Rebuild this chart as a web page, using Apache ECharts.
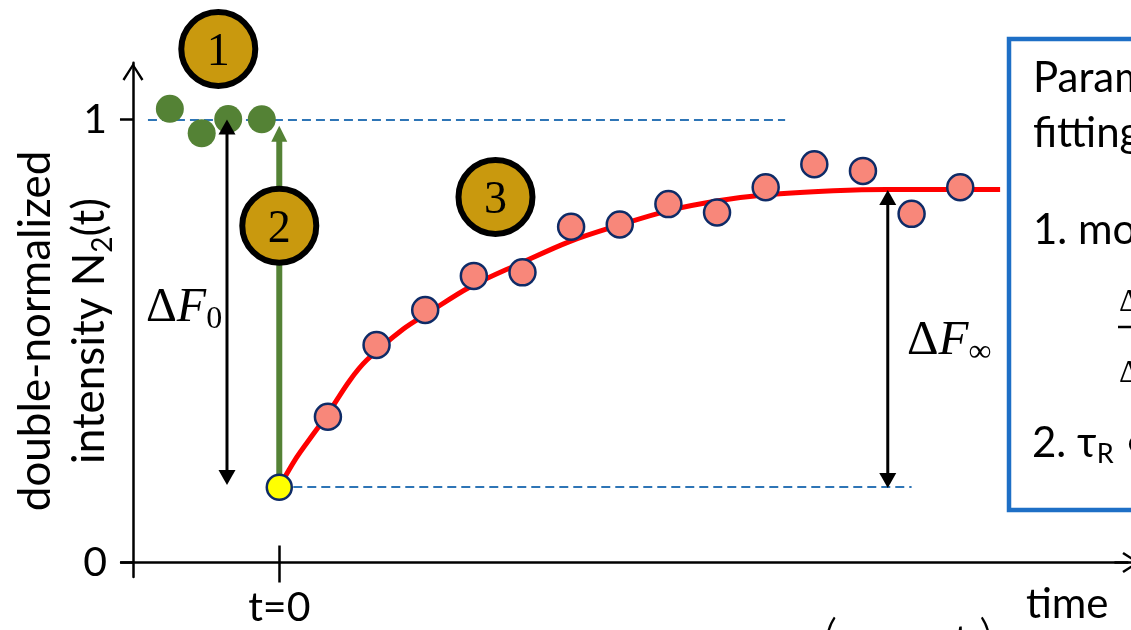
<!DOCTYPE html>
<html>
<head>
<meta charset="utf-8">
<script src="https://cdn.jsdelivr.net/npm/echarts@6/dist/echarts.min.js"></script>
<style>
  html, body { margin: 0; padding: 0; background: #ffffff; }
  #chart { width: 1131px; height: 630px; }
</style>
</head>
<body>
<div id="chart"></div>
<script>
// ---- data (time in frame intervals, double-normalized intensity) ----
// pre-bleach frames
const preBleachT = [-2.25, -1.595, -1.05, -0.36];
const preBleachN = [1.024, 0.969, 1.001, 1.0005];
// first frame after the bleach
const bleachT = [0];
const bleachN = [0.170];
// recovery frames
const recoveryT = [1, 2, 3, 4, 5, 6, 7, 8, 9, 10, 11, 12, 13, 14];
const recoveryN = [0.329, 0.491, 0.570, 0.647, 0.655, 0.758, 0.763, 0.809, 0.790, 0.847, 0.899, 0.884, 0.787, 0.847];
// fitted recovery curve
const fitT = [0, 0.35, 0.7, 1.0, 1.45, 1.8, 2.55, 3.03, 3.92, 4.95, 5.98, 7.0, 8.03, 9.06, 10.02, 11.39, 12.49, 14.82];
const fitN = [0.170, 0.236, 0.290, 0.336, 0.411, 0.457, 0.527, 0.561, 0.622, 0.675, 0.725, 0.762, 0.795, 0.817, 0.830, 0.839, 0.842, 0.842];
// dashed reference levels: pre-bleach level and bleach depth
const levelN = [1.0, 0.170];
const levelFromT = [-2.70, 0];
const levelToT = [10.40, 13.0];
// arrows: ΔF0, recovery step, ΔF∞
const arrowT = [-1.075, 0, 12.51];
const arrowFromN = [0.175, 0.170, 0.168];
const arrowToN = [1.0, 0.986, 0.841];
const arrowBothEnds = [1, 0, 1];
// numbered stages
const stageT = [-1.254, 0, 4.445];
const stageN = [1.159, 0.760, 0.825];
const stageText = ['1', '2', '3'];
// tick labels
const xTickValues = [0];
const xTickLabels = ['t=0'];
const yTickValues = [0, 1];
const yTickLabels = ['0', '1'];

// ---- layout ----
const X_MIN = -3.25, X_MAX = 17.7;
const Y_MIN = -0.033, Y_MAX = 1.128;
const PX_PER_T = 48.64, PX_PER_N = 443;
const GRID_LEFT = 121.2, GRID_TOP = 62.8;
const Y_AXIS_AT_T = -3.008;              // where the vertical axis sits on the time scale
const Y_AXIS_SHIFT = -(Y_AXIS_AT_T - X_MIN) * PX_PER_T;

const SANS = 'Lato, "DejaVu Sans", sans-serif';
const SERIF = '"Liberation Serif", "DejaVu Serif", serif';
const INK = '#000000';
const GREEN = '#548235';
const GOLD = '#C9990E';
const NAVY = '#0E2B67';
const SALMON = '#F8877A';
const DASH_BLUE = '#2E75B6';
const BOX_BLUE = '#1E6FC6';

// open chevron used as the axis arrow head (points up before rotation)
const CHEVRON = 'path://M10.5,0 L21,16.4 L19,17.8 L10.5,4.2 L2,17.8 L0,16.4 Z';

const ARROW_STYLE = [
  { color: INK, width: 3, len: 15, half: 8.5 },
  { color: GREEN, width: 6, len: 16, half: 8 },
  { color: INK, width: 3, len: 15, half: 8.5 }
];

function head(tip, dir, st) {
  return {
    type: 'polygon',
    shape: { points: [[tip[0], tip[1]], [tip[0] - st.half, tip[1] - dir * st.len], [tip[0] + st.half, tip[1] - dir * st.len]] },
    style: { fill: st.color }
  };
}

const baseY = {
  type: 'value', min: Y_MIN, max: Y_MAX, offset: Y_AXIS_SHIFT,
  splitLine: { show: false }
};
const baseX = {
  type: 'value', min: X_MIN, max: X_MAX, position: 'bottom',
  splitLine: { show: false }
};

const option = {
  animation: false,
  backgroundColor: '#ffffff',
  grid: {
    left: GRID_LEFT, top: GRID_TOP,
    width: (X_MAX - X_MIN) * PX_PER_T,
    height: (Y_MAX - Y_MIN) * PX_PER_N,
    containLabel: false,
    outerBoundsMode: 'none'
  },
  xAxis: [
    Object.assign({}, baseX, {
      axisLine: { show: true, onZero: true, lineStyle: { color: INK, width: 2.5 },
        symbol: ['none', CHEVRON], symbolSize: [21, 18], symbolOffset: [0, -9] },
      axisTick: { show: true, inside: false, length: 20, lineStyle: { color: INK, width: 2.5 }, customValues: xTickValues },
      axisLabel: { show: true, customValues: xTickValues, margin: 10,
        formatter: v => xTickLabels[xTickValues.indexOf(v)],
        fontFamily: SANS, fontSize: 41, lineHeight: 41, color: INK },
      name: 'time', nameLocation: 'end', nameGap: -73, nameMoveOverlap: false,
      nameTextStyle: { fontFamily: SANS, fontSize: 42, color: INK, align: 'center', verticalAlign: 'top', lineHeight: 84 }
    }),
    Object.assign({}, baseX, {
      axisLine: { show: false, onZero: true },
      axisTick: { show: true, inside: true, length: 17, lineStyle: { color: INK, width: 2.5 }, customValues: xTickValues },
      axisLabel: { show: false }
    })
  ],
  yAxis: [
    Object.assign({}, baseY, {
      axisLine: { show: true, onZero: false, lineStyle: { color: INK, width: 2.5 },
        symbol: ['none', CHEVRON], symbolSize: [21, 18], symbolOffset: [0, -9] },
      axisTick: { show: true, inside: false, length: 13, lineStyle: { color: INK, width: 2.5 }, customValues: yTickValues },
      axisLabel: { show: true, customValues: yTickValues, margin: 26,
        formatter: v => yTickLabels[yTickValues.indexOf(v)],
        fontFamily: SANS, fontSize: 41, color: INK },
      name: '{a|double-normalized}\n{a|intensity N}{s|2}{a|(t)}',
      nameLocation: 'middle', nameRotate: 90, nameGap: 16, nameMoveOverlap: false,
      nameTextStyle: {
        fontFamily: SANS, fontSize: 44, color: INK, padding: [0, 22, 0, 0],
        rich: {
          a: { fontFamily: SANS, fontSize: 44, lineHeight: 54, color: INK },
          s: { fontFamily: SANS, fontSize: 28, lineHeight: 32, verticalAlign: 'bottom', color: INK }
        }
      }
    }),
    Object.assign({}, baseY, {
      axisLine: { show: false, onZero: false },
      axisTick: { show: true, inside: true, length: 14, lineStyle: { color: INK, width: 2.5 }, customValues: yTickValues },
      axisLabel: { show: false }
    })
  ],
  series: [
    {
      name: 'levels', type: 'lines', coordinateSystem: 'cartesian2d', z: 1,
      data: levelN.map((n, i) => ({ coords: [[levelFromT[i], n], [levelToT[i], n]] })),
      lineStyle: { color: DASH_BLUE, width: 2, type: [9, 5], opacity: 1 },
      symbol: 'none'
    },
    {
      name: 'pre-bleach', type: 'scatter', z: 3,
      data: preBleachT.map((t, i) => [t, preBleachN[i]]),
      symbol: 'circle', symbolSize: 28,
      itemStyle: { color: GREEN, opacity: 1 }
    },
    {
      name: 'fit', type: 'line', z: 4, smooth: 0.35,
      data: fitT.map((t, i) => [t, fitN[i]]),
      showSymbol: false, symbol: 'none',
      lineStyle: { color: '#FF0000', width: 5 }
    },
    {
      name: 'arrows', type: 'custom', z: 5,
      encode: { x: 0, y: [1, 2] },
      data: arrowT.map((t, i) => [t, arrowFromN[i], arrowToN[i], arrowBothEnds[i]]),
      renderItem(params, api) {
        const st = ARROW_STYLE[params.dataIndex];
        const t = api.value(0);
        const a = api.coord([t, api.value(1)]);
        const b = api.coord([t, api.value(2)]);
        const dir = Math.sign(b[1] - a[1]);
        const both = api.value(3) === 1;
        const children = [{
          type: 'line',
          shape: { x1: a[0], y1: both ? a[1] + dir * (st.len - 2) : a[1], x2: b[0], y2: b[1] - dir * (st.len - 2) },
          style: { stroke: st.color, lineWidth: st.width }
        }, head(b, dir, st)];
        if (both) children.push(head(a, -dir, st));
        return { type: 'group', children };
      }
    },
    {
      name: 'recovery', type: 'scatter', z: 6,
      data: recoveryT.map((t, i) => [t, recoveryN[i]]),
      symbol: 'circle', symbolSize: 26,
      itemStyle: { color: SALMON, borderColor: NAVY, borderWidth: 2.5, opacity: 1 }
    },
    {
      name: 'bleach', type: 'scatter', z: 7,
      data: bleachT.map((t, i) => [t, bleachN[i]]),
      symbol: 'circle', symbolSize: 25,
      itemStyle: { color: '#FFFF00', borderColor: NAVY, borderWidth: 2.5, opacity: 1 }
    },
    {
      name: 'stages', type: 'scatter', z: 8, clip: false,
      data: stageT.map((t, i) => ({ value: [t, stageN[i]], name: stageText[i] })),
      symbol: 'circle', symbolSize: 74,
      itemStyle: { color: GOLD, borderColor: '#000000', borderWidth: 6, opacity: 1 },
      label: {
        show: true, position: 'inside', formatter: p => p.name, offset: [0, 4],
        fontFamily: SERIF, fontSize: 46, color: '#000000'
      }
    }
  ],
  graphic: [
    // ΔF0 and ΔF∞ labels next to their arrows
    {
      type: 'text', x: 146, y: 308, z: 20,
      style: {
        text: '{d|Δ}{f|F}{s|0}', verticalAlign: 'middle',
        rich: {
          d: { fontFamily: SERIF, fontSize: 48, lineHeight: 56, fill: INK },
          f: { fontFamily: SERIF, fontSize: 48, fontStyle: 'italic', lineHeight: 56, fill: INK },
          s: { fontFamily: SERIF, fontSize: 32, lineHeight: 14, verticalAlign: 'bottom', fill: INK }
        }
      }
    },
    {
      type: 'text', x: 907, y: 341, z: 20,
      style: {
        text: '{d|Δ}{f|F}{s|∞}', verticalAlign: 'middle',
        rich: {
          d: { fontFamily: SERIF, fontSize: 49, lineHeight: 56, fill: INK },
          f: { fontFamily: SERIF, fontSize: 49, fontStyle: 'italic', lineHeight: 56, fill: INK },
          s: { fontFamily: SERIF, fontSize: 32, lineHeight: 11, verticalAlign: 'bottom', fill: INK }
        }
      }
    },
    // parameter box
    {
      type: 'rect', z: 20,
      shape: { x: 1009, y: 39, width: 220, height: 471 },
      style: { fill: '#ffffff', stroke: BOX_BLUE, lineWidth: 4.5 }
    },
    { type: 'text', x: 1033, y: 78, z: 21, style: { text: 'Parameters from', fontFamily: SANS, fontSize: 42, fill: INK, verticalAlign: 'middle' } },
    { type: 'text', x: 1033, y: 133, z: 21, style: { text: 'fitting:', fontFamily: SANS, fontSize: 42, fill: INK, verticalAlign: 'middle' } },
    { type: 'text', x: 1033, y: 230, z: 21, style: { text: '1. mobile fraction', fontFamily: SANS, fontSize: 42, fill: INK, verticalAlign: 'middle' } },
    {
      type: 'text', x: 1119, y: 303, z: 21,
      style: {
        text: '{d|Δ}{f|F}{s|∞}', verticalAlign: 'middle',
        rich: {
          d: { fontFamily: SERIF, fontSize: 32, lineHeight: 36, fill: INK },
          f: { fontFamily: SERIF, fontSize: 32, fontStyle: 'italic', lineHeight: 36, fill: INK },
          s: { fontFamily: SERIF, fontSize: 22, lineHeight: 10, verticalAlign: 'bottom', fill: INK }
        }
      }
    },
    { type: 'line', z: 21, shape: { x1: 1118, y1: 327, x2: 1200, y2: 327 }, style: { stroke: INK, lineWidth: 2.5 } },
    {
      type: 'text', x: 1119, y: 374, z: 21,
      style: {
        text: '{d|Δ}{f|F}{s|0}', verticalAlign: 'middle',
        rich: {
          d: { fontFamily: SERIF, fontSize: 32, lineHeight: 36, fill: INK },
          f: { fontFamily: SERIF, fontSize: 32, fontStyle: 'italic', lineHeight: 36, fill: INK },
          s: { fontFamily: SERIF, fontSize: 22, lineHeight: 10, verticalAlign: 'bottom', fill: INK }
        }
      }
    },
    {
      type: 'text', x: 1032, y: 443, z: 21,
      style: {
        text: '{n|2. τ}{s|R}{n| ∝ 1/D}', verticalAlign: 'middle',
        rich: {
          n: { fontFamily: SANS, fontSize: 42, lineHeight: 50, fill: INK },
          s: { fontFamily: SANS, fontSize: 27, lineHeight: 28, verticalAlign: 'bottom', fill: INK }
        }
      }
    },
    // recovery model written under the axis
    { type: 'text', x: 823, y: 613, z: 21, style: { text: '(', fontFamily: SANS, fontSize: 56, fontWeight: 300, fill: INK, verticalAlign: 'top' } },
    { type: 'text', x: 954, y: 620, z: 21, style: { text: 't', fontFamily: SANS, fontSize: 41, fill: INK, verticalAlign: 'top' } },
    { type: 'text', x: 979, y: 613, z: 21, style: { text: ')', fontFamily: SANS, fontSize: 56, fontWeight: 300, fill: INK, verticalAlign: 'top' } }
  ]
};

const chart = echarts.init(document.getElementById('chart'), null, { renderer: 'canvas' });
chart.setOption(option);
</script>
</body>
</html>
